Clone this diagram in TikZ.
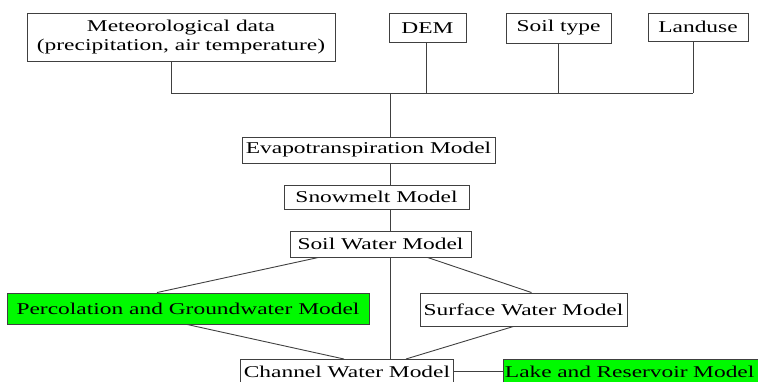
\documentclass[tikz,border=0pt]{standalone}
\usepackage{fontspec}
\setmainfont{Liberation Serif}
\newfontfamily\widefont[FakeStretch=1.42]{Liberation Serif}
\definecolor{boxgreen}{RGB}{0,250,0}
\begin{document}
\begin{tikzpicture}[x=1pt,y=-1pt,
  box/.style={draw=black!75,line width=0.9pt,inner sep=0pt,align=center,font=\widefont\fontsize{16.5}{18.5}\selectfont},
  greenbox/.style={box,fill=boxgreen},
  conn/.style={draw=black!75,line width=0.9pt}]
\useasboundingbox (0,0) rectangle (758,381);
\clip (0,0) rectangle (758,381);
\node[box,minimum width=308pt,minimum height=48pt] (met) at (181,37) {Meteorological data\\(precipitation, air temperature)};
\node[box,minimum width=77pt,minimum height=29pt] (dem) at (427.5,28) {DEM};
\node[box,minimum width=105pt,minimum height=30pt] (soil) at (558.5,28) {Soil type};
\node[box,minimum width=100pt,minimum height=28pt] (land) at (698,27) {Landuse};
\node[box,minimum width=253pt,minimum height=26pt] (evap) at (368.5,150) {Evapotranspiration Model};
\node[box,minimum width=185pt,minimum height=24pt] (snow) at (376.5,197) {Snowmelt Model};
\node[box,minimum width=181pt,minimum height=26pt] (sw) at (380.5,244) {Soil Water Model};
\node[greenbox,minimum width=362pt,minimum height=31pt] (perc) at (188,308.5) {Percolation and Groundwater Model};
\node[box,minimum width=207pt,minimum height=33pt] (surf) at (523.5,309.5) {Surface Water Model};
\node[box,minimum width=213pt,minimum height=24pt,anchor=north west] (chan) at (240,359) {Channel Water Model};
\node[greenbox,minimum width=262pt,minimum height=24pt,anchor=north west,inner xsep=1.5pt,align=left,text width=259pt] (lake) at (503,359) {Lake and Reservoir Model};
\coordinate (busL) at (171,93);
\coordinate (busR) at (693,93);
\coordinate (busC) at (390,93);
\draw[conn] (busL) -- (busR);
\draw[conn] ([xshift=-10pt]met.south) -- ([xshift=-10pt]met.south |- busL);
\draw[conn] ([xshift=-1.5pt]dem.south) -- ([xshift=-1.5pt]dem.south |- busL);
\draw[conn] (soil.south) -- (soil.south |- busL);
\draw[conn] ([xshift=-5pt]land.south) -- ([xshift=-5pt]land.south |- busL);
\draw[conn] (busC) -- (busC |- evap.north);
\draw[conn] (busC |- evap.south) -- (busC |- snow.north);
\draw[conn] (busC |- snow.south) -- (busC |- sw.north);
\draw[conn] (busC |- sw.south) -- (busC |- chan.north);
\draw[conn] ([xshift=-62pt]sw.south) -- ([xshift=-31pt]perc.north);
\draw[conn] ([xshift=47pt]sw.south) -- ([xshift=8pt]surf.north);
\draw[conn] ([xshift=-1pt]perc.south) -- ([xshift=-3pt]chan.north);
\draw[conn] ([xshift=-10pt]surf.south) -- ([xshift=59pt]chan.north);
\draw[conn] (chan.east) -- (lake.west);
\end{tikzpicture}
\end{document}
